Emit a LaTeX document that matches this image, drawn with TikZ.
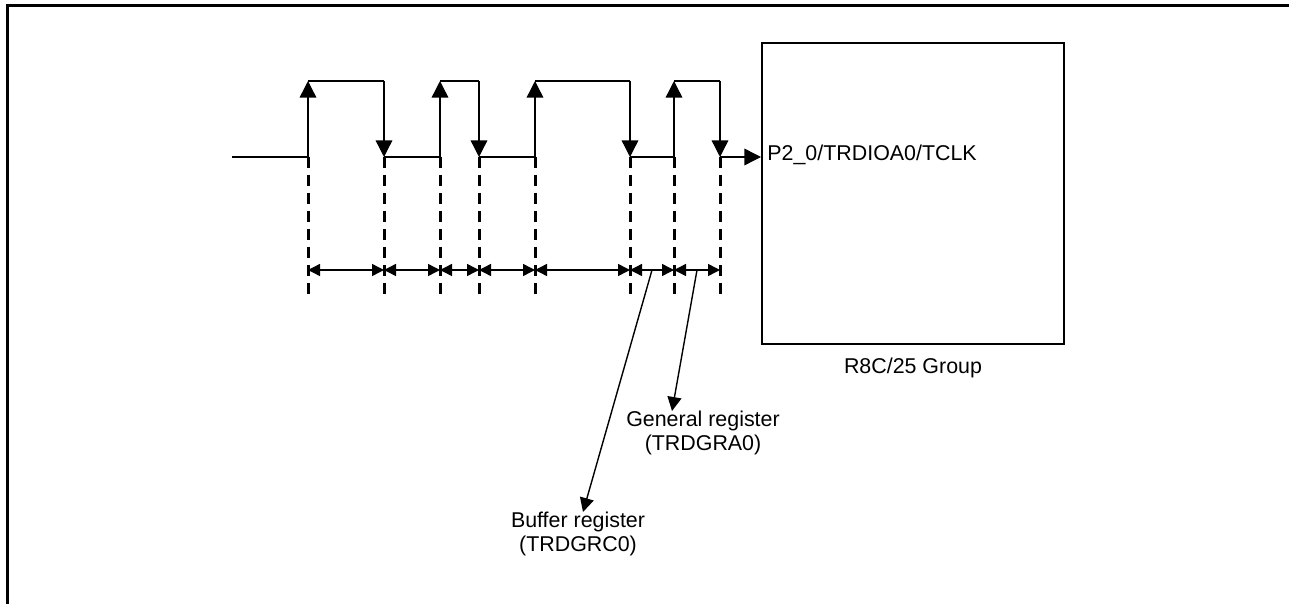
\documentclass[tikz,border=0pt]{standalone}
\usepackage{fontspec}
\setmainfont{Liberation Sans}
\usetikzlibrary{arrows.meta,positioning,calc}

\begin{document}
\begin{tikzpicture}[
  x=0.5pt, y=-0.5pt,
  font=\fontsize{10.7}{12}\selectfont,
  >={Triangle[length=8.3pt,width=8.3pt]},
  wave/.style={line width=0.7pt},
  guide/.style={line width=1.5pt, dash pattern=on 5.5pt off 3.5pt},
  span/.style={line width=0.7pt,
    {Triangle[length=6pt,width=6pt]}-{Triangle[length=6pt,width=6pt]}},
  pointer/.style={line width=0.7pt, -{Triangle[length=7pt,width=7pt]}},
  chipbox/.style={draw, line width=1pt, minimum width=151pt,
    minimum height=150.5pt, inner sep=0pt},
  lbl/.style={inner sep=0pt, align=center}
]
\useasboundingbox (0,0) rectangle (1289,604);

% =============================================================
% frame
% =============================================================
\draw[line width=1.5pt] (7,604) -- (7,6) -- (1289,6);

% =============================================================
% chip
% =============================================================
\node[chipbox] (chip) at (913,193.5) {};
\node[lbl, below=6.5pt of chip] (group) {R8C/25 Group};

% =============================================================
% edge positions
% =============================================================
\foreach \x [count=\i] in {308,384,440,479,535,630,674,720} {
  \coordinate (e\i) at (\x,157);
  \coordinate (t\i) at (\x,81);
  \coordinate (d\i) at (\x,270);
  \coordinate (g\i) at (\x,300);
}
\coordinate (start) at (232,157);
\coordinate (pin) at (chip.west |- e1);

\node[anchor=base west, inner sep=0pt] (pinlbl)
   at ([xshift=3pt,yshift=-2pt]pin) {P2\_0/TRDIOA0/TCLK};

% =============================================================
% waveform
% =============================================================
\draw[wave] (start) -- (e1);
\foreach \r/\f in {1/2,3/4,5/6,7/8} {
  \draw[wave, ->] (e\r) -- (t\r);
  \draw[wave] (t\r) -- (t\f);
  \draw[wave, ->] (t\f) -- (e\f);
}
\foreach \f/\r in {2/3,4/5,6/7}
  \draw[wave] (e\f) -- (e\r);
\draw[wave, ->] (e8) -- (pin);

% dashed guides + intervals
\foreach \i in {1,...,8}
  \draw[guide] (e\i) -- (g\i);
\foreach \i/\j in {1/2,2/3,3/4,4/5,5/6,6/7,7/8}
  \draw[span] (d\i) -- (d\j);

% =============================================================
% register labels
% =============================================================
\node[lbl, anchor=north] (gra) at (703,411) {General register\\(TRDGRA0)};
\node[lbl, anchor=north] (grc) at (578,512) {Buffer register\\(TRDGRC0)};

\draw[pointer] ($(d7)!0.5!(d8)$) -- ([xshift=-15.5pt]gra.north);
\draw[pointer] ($(d6)!0.5!(d7)$) -- ([xshift=2.5pt]grc.north);

\end{tikzpicture}
\end{document}
